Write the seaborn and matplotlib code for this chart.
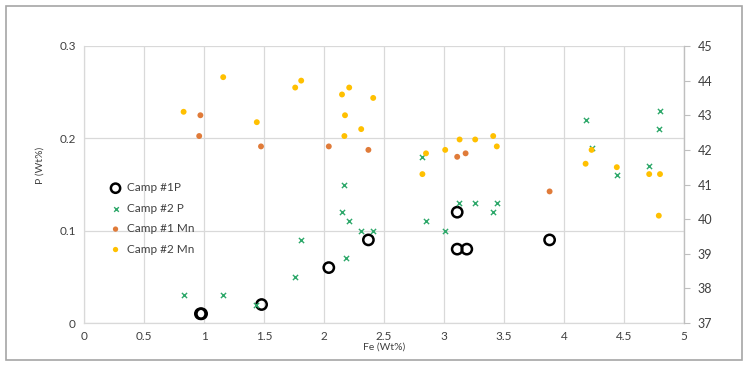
import numpy as np
import pandas as pd
import matplotlib.pyplot as plt
import seaborn as sns
from matplotlib.patches import Rectangle

# Camp #1 P (left axis)
c1p_fe = [0.97, 0.98, 1.48, 2.04, 2.37, 3.11, 3.11, 3.19, 3.88]
c1p_p = [0.01, 0.01, 0.02, 0.06, 0.09, 0.12, 0.08, 0.08, 0.09]

# Camp #2 P (left axis)
c2p_fe = [0.83, 1.16, 1.43, 1.76, 1.81, 2.15, 2.17, 2.18, 2.21, 2.31, 2.41, 2.82,
          2.85, 3.01, 3.125, 3.26, 3.41, 3.44, 4.18, 4.23, 4.44, 4.71, 4.79, 4.80]
c2p_p = [0.03, 0.03, 0.02, 0.05, 0.09, 0.12, 0.15, 0.07, 0.11, 0.10, 0.10, 0.18,
         0.11, 0.10, 0.13, 0.13, 0.12, 0.13, 0.22, 0.19, 0.16, 0.17, 0.21, 0.23]

# Camp #1 Mn (right axis)
c1mn_fe = [0.97, 0.96, 1.475, 2.04, 2.37, 3.11, 3.18, 3.88]
c1mn = [43.0, 42.4, 42.1, 42.1, 42.0, 41.8, 41.9, 40.8]

# Camp #2 Mn (right axis)
c2mn_fe = [0.83, 1.16, 1.44, 1.76, 1.81, 2.15, 2.21, 2.175, 2.17, 2.31, 2.41, 2.82,
           2.85, 3.01, 3.13, 3.26, 3.41, 3.44, 4.18, 4.23, 4.44, 4.71, 4.80, 4.79]
c2mn = [43.1, 44.1, 42.8, 43.8, 44.0, 43.6, 43.8, 43.0, 42.4, 42.6, 43.5, 41.3,
        41.9, 42.0, 42.3, 42.3, 42.4, 42.1, 41.6, 42.0, 41.5, 41.3, 41.3, 40.1]

sns.set_style("white")
plt.rcParams['font.family'] = ['Lato', 'DejaVu Sans']

txt = '#404040'
grid = '#d9d9d9'

fig = plt.figure(figsize=(7.49, 3.66), dpi=100)
ax = fig.add_axes([84/749, 1-323/366, 600/749, 277/366])
ax2 = ax.twinx()

sns.scatterplot(x=c1p_fe, y=c1p_p, ax=ax, marker='o', s=55, facecolor='none',
                edgecolor='black', linewidth=1.8, label='Camp #1P', zorder=4)
sns.scatterplot(x=c2p_fe, y=c2p_p, ax=ax, marker='x', s=14, color='#2ea86a',
                linewidth=1.0, label='Camp #2 P', zorder=4)
sns.scatterplot(x=c1mn_fe, y=c1mn, ax=ax2, marker='o', s=18, color='#e07b39',
                edgecolor='none', label='Camp #1 Mn', zorder=3)
sns.scatterplot(x=c2mn_fe, y=c2mn, ax=ax2, marker='o', s=18, color='#ffc000',
                edgecolor='none', label='Camp #2 Mn', zorder=3)

ax.set_xlim(0, 5)
ax.set_ylim(0, 0.3)
ax2.set_ylim(37, 45)
ax.set_xticks(np.arange(0, 5.01, 0.5))
ax.set_xticklabels(['0', '0.5', '1', '1.5', '2', '2.5', '3', '3.5', '4', '4.5', '5'])
ax.set_yticks([0, 0.1, 0.2, 0.3])
ax.set_yticklabels(['0', '0.1', '0.2', '0.3'])
ax2.set_yticks(range(37, 46))

ax.grid(True, color=grid, linewidth=0.9)
ax.set_axisbelow(True)
ax.tick_params(axis='both', length=0, labelsize=8.5, colors=txt, pad=6)
ax2.tick_params(axis='y', length=4, width=0.8, color='#bfbfbf', labelsize=9,
                colors=txt, pad=6)
ax2.tick_params(axis='y', colors='#bfbfbf', labelcolor=txt)

for a in (ax, ax2):
    for side, sp in a.spines.items():
        sp.set_color(grid)
        sp.set_linewidth(0.9)
    a.spines['top'].set_visible(False)
ax2.spines['right'].set_color('#bfbfbf')
ax2.spines['left'].set_visible(False)
ax2.spines['bottom'].set_visible(False)

ax.set_xlabel('Fe (Wt%)', fontsize=7.5, color=txt)
ax.xaxis.set_label_coords(0.5, -0.07)
ax.set_ylabel('P (Wt%)', fontsize=7.5, color=txt)
ax.yaxis.set_label_coords(-0.065, 0.57)

h1, l1 = ax.get_legend_handles_labels()
h2, l2 = ax2.get_legend_handles_labels()
ax2.get_legend().remove()
ax.get_legend().remove()
leg = ax.legend(h1 + h2, l1 + l2, loc='upper left', bbox_to_anchor=(0.025, 0.525),
                frameon=False, fontsize=8.5, handletextpad=0.0, labelspacing=0.8,
                borderaxespad=0, markerscale=0.9, labelcolor=txt)

fig.patches.append(Rectangle((6/749, 1-360/366), 736/749, 354/366, transform=fig.transFigure,
                             fill=False, edgecolor='#a6a6a6', linewidth=1.2))

fig.savefig('out.png', dpi=100)
